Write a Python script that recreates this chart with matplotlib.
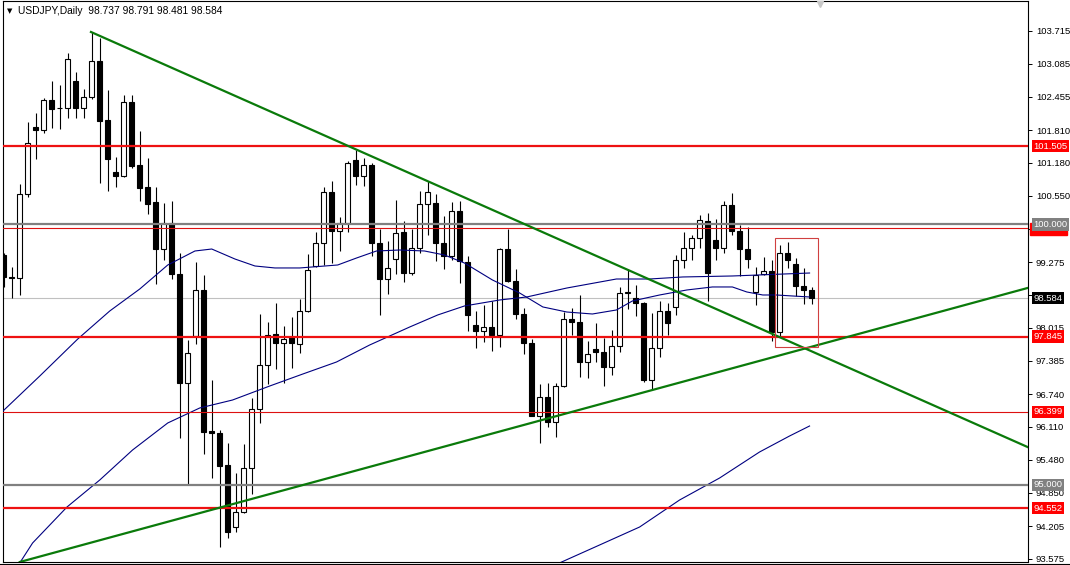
import matplotlib
matplotlib.use('Agg')
import matplotlib.pyplot as plt
from matplotlib.patches import Rectangle
from matplotlib.lines import Line2D

# daily candles, oldest first
opens = [99.413, 98.99, 98.97, 100.585, 101.871, 101.814, 102.39, 102.236, 102.236, 102.755,
         102.236, 102.447, 103.139, 102.006, 101.007, 100.93, 102.351, 101.132, 100.72, 100.427,
         99.522, 100.021, 99.043, 96.96, 97.858, 98.737, 96.028, 95.995, 95.376, 94.185,
         94.477, 95.329, 96.461, 97.292, 97.905, 97.725, 97.838, 97.705, 98.337, 99.209,
         99.642, 100.62, 99.868, 100.021, 101.232, 100.933, 101.132, 99.635, 98.943, 99.335,
         99.855, 99.076, 99.555, 100.40, 100.42, 99.642, 99.402, 100.254, 99.276, 98.071,
         97.958, 98.025, 97.871, 99.522, 98.909, 98.277, 97.725, 96.327, 96.686, 96.206,
         96.893, 98.191, 98.124, 97.359, 97.605, 97.559, 97.259, 97.672, 98.69, 98.59,
         98.49, 97.013, 97.625, 98.337, 98.41, 99.322, 99.542, 99.735, 100.074, 99.702,
         99.555, 100.367, 99.868, 99.522, 98.71, 99.056, 99.109, 97.925, 99.442, 99.236,
         98.823, 98.737]
highs = [99.45, 99.18, 100.78, 101.967, 102.14, 102.43, 102.755, 102.678, 103.292, 102.928,
         102.60, 103.696, 103.58, 102.582, 101.295, 102.486, 102.486, 101.785, 101.272, 100.72,
         100.407, 100.453, 99.455, 97.778, 99.276, 99.023, 97.013, 96.061, 95.808, 95.229,
         95.781, 96.66, 98.277, 98.124, 98.49, 98.058, 98.224, 98.57, 99.435, 99.855,
         100.72, 100.833, 100.141, 101.219, 101.438, 101.285, 101.186, 99.921, 99.688, 100.467,
         100.068, 99.921, 100.64, 100.833, 100.587, 100.154, 100.434, 100.453, 99.389, 98.337,
         98.444, 98.537, 99.555, 99.921, 99.136, 98.39, 97.805, 96.926, 96.955, 96.955,
         98.324, 98.404, 98.643, 97.758, 98.111, 97.825, 97.971, 98.803, 99.136, 98.843,
         98.51, 98.291, 98.524, 98.49, 99.409, 99.855, 99.801, 100.187, 100.221, 100.101,
         100.453, 100.607, 99.988, 99.954, 99.176, 99.369, 99.322, 99.608, 99.655, 99.355,
         99.156, 98.791]
lows = [98.80, 98.59, 98.645, 100.527, 101.257, 101.756, 101.852, 101.833, 102.044, 102.044,
        102.044, 102.409, 100.796, 100.642, 100.719, 100.911, 101.08, 100.453, 100.207, 98.856,
        99.322, 98.956, 95.895, 94.996, 97.705, 95.595, 95.129, 93.799, 93.985, 94.098,
        94.464, 94.83, 96.194, 96.926, 97.226, 96.96, 97.239, 97.539, 98.324, 99.176,
        99.222, 99.256, 99.489, 99.855, 100.753, 100.733, 99.402, 98.257, 98.657, 99.056,
        98.89, 99.023, 99.455, 99.788, 99.289, 99.136, 99.322, 98.876, 97.945, 97.625,
        97.738, 97.572, 97.638, 98.89, 98.191, 97.512, 96.314, 95.808, 96.11, 95.918,
        96.873, 97.871, 97.073, 97.059, 97.359, 96.893, 97.113, 97.559, 98.377, 98.244,
        96.973, 96.827, 97.446, 97.871, 98.257, 99.156, 99.309, 99.555, 98.537, 99.322,
        99.455, 99.788, 99.009, 99.169, 98.444, 99.023, 97.758, 97.858, 99.156, 98.623,
        98.47, 98.481]
closes = [98.99, 98.98, 100.585, 101.564, 101.814, 102.39, 102.217, 102.24, 103.177, 102.236,
          102.447, 103.139, 101.987, 101.257, 100.93, 102.351, 101.122, 100.706, 100.40, 99.522,
          100.021, 99.043, 96.96, 97.525, 98.737, 96.015, 95.995, 95.362, 94.085, 94.477,
          95.329, 96.461, 97.292, 97.878, 97.725, 97.805, 97.725, 98.337, 99.123, 99.642,
          100.62, 99.868, 100.021, 101.172, 100.933, 101.132, 99.635, 98.943, 99.156, 99.835,
          99.076, 99.555, 100.40, 100.62, 99.642, 99.389, 100.254, 99.289, 98.257, 97.945,
          98.025, 97.871, 99.522, 98.909, 98.277, 97.725, 96.327, 96.694, 96.206, 96.897,
          98.178, 98.124, 97.359, 97.512, 97.545, 97.259, 97.672, 98.69, 98.70, 98.49,
          97.013, 97.625, 98.337, 98.104, 99.322, 99.555, 99.735, 100.088, 99.076, 99.555,
          100.367, 99.868, 99.522, 99.342, 99.036, 99.109, 97.925, 99.442, 99.322, 98.81,
          98.737, 98.584]

# moving averages, sampled as (bar, price)
ma_fast_bars = [-0.1, 4.5, 9.25, 13.25, 17, 20.5, 23.9, 26, 28.9, 31.4, 33.9, 37, 41.75, 44.1,
                46.6, 49.5, 52.6, 55.1, 57.6, 61.1, 64.5, 67.4, 70.4, 73.6, 76.6, 78.6, 82,
                85.4, 88.6, 91.1, 92.9, 94.9, 96.6, 98.6, 100.75]
ma_fast = [96.417, 97.089, 97.80, 98.338, 98.76, 99.221, 99.49, 99.528, 99.336, 99.202, 99.164,
           99.164, 99.221, 99.355, 99.49, 99.509, 99.49, 99.413, 99.259, 98.933, 98.683, 98.415,
           98.318, 98.28, 98.357, 98.53, 98.645, 98.741, 98.799, 98.799, 98.703, 98.645, 98.645,
           98.626, 98.607]
ma_mid_bars = [2, 3.6, 7.9, 12, 16.1, 20.5, 24.5, 28.6, 33.25, 37.4, 41.6, 45.75, 50.75, 54.25,
               57.6, 62, 65.4, 70.4, 76.6, 80.75, 84.9, 91.1, 100.75]
ma_mid = [93.50, 93.882, 94.573, 95.092, 95.668, 96.187, 96.475, 96.628, 96.897, 97.128, 97.358,
          97.685, 98.03, 98.261, 98.434, 98.549, 98.607, 98.779, 98.952, 98.952, 98.991, 99.01,
          99.067]
ma_slow_bars = [69.5, 74.5, 79.5, 84.5, 89.5, 94.5, 98.25, 100.75]
ma_slow = [93.50, 93.844, 94.189, 94.708, 95.13, 95.63, 95.937, 96.129]

# horizontal levels
red_levels = [101.505, 97.845, 94.552]
red_thin_levels = [99.925, 96.399]
gray_levels = [100.000, 95.000]
last_price = 98.584

# trendlines, (bars, prices)
down_bars, down_prices = [10.9, 128.0], [103.696, 95.726]
up_bars, up_prices = [2.0, 128.0], [93.517, 98.779]

# box round the last candles
box_bars = (96.4, 101.8)
box_prices = (97.646, 99.74)

yticks = [103.715, 103.085, 102.455, 101.810, 101.180, 100.550, 99.905, 99.275, 98.645,
          98.015, 97.385, 96.740, 96.110, 95.480, 94.850, 94.205, 93.575]
hidden_ticks = [99.905, 98.645]  # covered by the price tags

plt.rcParams['font.family'] = ['Liberation Sans', 'DejaVu Sans']

fig = plt.figure(figsize=(10.7, 5.65), dpi=100)
ax = fig.add_axes([3 / 1070, 3 / 565, 1024.5 / 1070, 561 / 565])

# candles
x = list(range(len(opens)))
ax.vlines(x, lows, highs, color='black', lw=0.8, zorder=2)
bottoms = [min(o, c) for o, c in zip(opens, closes)]
heights = [abs(c - o) for o, c in zip(opens, closes)]
colors = ['white' if c >= o else 'black' for o, c in zip(opens, closes)]
ax.bar(x, heights, bottom=bottoms, width=0.62, color=colors, edgecolor='black', lw=0.8, zorder=3)

# moving averages
ax.plot(ma_fast_bars, ma_fast, color='#000080', lw=0.8, zorder=4)
ax.plot(ma_mid_bars, ma_mid, color='#000080', lw=0.8, zorder=4)
ax.plot(ma_slow_bars, ma_slow, color='#000080', lw=0.8, zorder=4)

# levels
for lv in red_levels:
    ax.axhline(lv, color='#ee1111', lw=1.6, zorder=5)
for lv in red_thin_levels:
    ax.axhline(lv, color='#dd1111', lw=0.8, zorder=5)
for lv in gray_levels:
    ax.axhline(lv, color='#808080', lw=1.6, zorder=5)
ax.axhline(last_price, color='#c0c0c0', lw=0.8, zorder=1)

# trendlines
ax.plot(down_bars, down_prices, color='#0a7a0a', lw=1.6, zorder=6)
ax.plot(up_bars, up_prices, color='#0a7a0a', lw=1.6, zorder=6)

ax.add_patch(Rectangle((box_bars[0], box_prices[0]), box_bars[1] - box_bars[0],
                       box_prices[1] - box_prices[0], fill=False, edgecolor='#d04040', lw=0.8, zorder=7))

ax.set_xlim(-0.1, 128.0)
ax.set_ylim(93.517, 104.291)
ax.set_xticks([])
ax.yaxis.tick_right()
ax.set_yticks(yticks)
ax.set_yticklabels(['' if t in hidden_ticks else f'{t:.3f}' for t in yticks])
ax.tick_params(axis='y', direction='out', length=3, width=0.7, labelsize=6.8, pad=3)
for s in ax.spines.values():
    s.set_color('black')
    s.set_linewidth(0.8)


def price_tag(price, bg):
    ax.annotate(f'{price:.3f}', xy=(1, price), xycoords=('axes fraction', 'data'),
                xytext=(4.2, 0), textcoords='offset points', ha='left', va='center',
                color='white', fontsize=6.8,
                bbox=dict(boxstyle='square,pad=0.18', fc=bg, ec='none'),
                annotation_clip=False, zorder=10)


# the red tag under the 100.000 tag only shows its lower edge
tag_tf = ax.get_yaxis_transform()
for lv in red_thin_levels[:1]:
    ax.add_patch(Rectangle((1.0025, lv - 0.125), 0.036, 0.23, transform=tag_tf,
                           color='#ff0000', clip_on=False, zorder=9))
for lv in red_thin_levels[1:] + red_levels:
    price_tag(lv, '#ff0000')
for lv in gray_levels:
    price_tag(lv, '#808080')
price_tag(last_price, 'black')

# header
ax.text(0.004, 0.982, '\u25bc', transform=ax.transAxes, fontsize=5, va='center', ha='left',
        family='DejaVu Sans')
ax.text(0.015, 0.982, 'USDJPY,Daily  98.737 98.791 98.481 98.584', transform=ax.transAxes,
        fontsize=7.4, va='center', ha='left')

# chart shift marker at the top
ax.plot([102.0], [104.24], marker='v', color='#c8c8c8', ms=5, clip_on=False, zorder=8)

fig.add_artist(Line2D([0, 1], [1 / 565, 1 / 565], color='black', lw=0.8))

fig.savefig('out.png', dpi=100)
